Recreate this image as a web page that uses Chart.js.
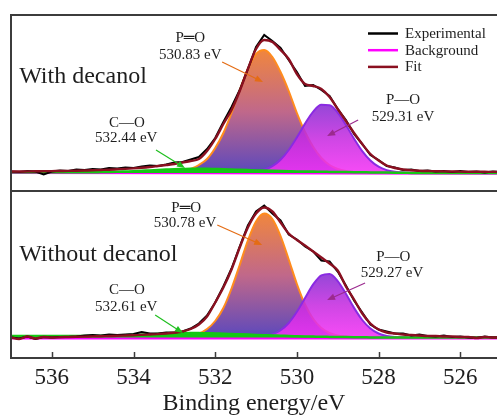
<!DOCTYPE html>
<html>
<head>
<meta charset="utf-8">
<script src="https://cdn.jsdelivr.net/npm/chart.js@4.4.1/dist/chart.umd.min.js"></script>
<style>
  html, body { margin: 0; padding: 0; background: #fff; }
  #wrap { position: relative; width: 497px; height: 416px; overflow: hidden; }
  canvas { position: absolute; left: 0; }
  #withChart { top: 0; }
  #withoutChart { top: 189px; }
</style>
</head>
<body>
<div id="wrap">
  <canvas id="withChart" width="497" height="193"></canvas>
  <canvas id="withoutChart" width="497" height="227"></canvas>
</div>
<script>
// P 2p / O 1s style XPS fit, two panels sharing the binding-energy axis

const SERIF = '"Liberation Serif", "Times New Roman", serif';

// --- DATA ---
const energy = [
  537.0, 536.8, 536.6, 536.4, 536.2, 536.0, 535.8, 535.6, 535.4, 535.2,
  535.0, 534.8, 534.6, 534.4, 534.2, 534.0, 533.8, 533.6, 533.4, 533.2,
  533.0, 532.8, 532.6, 532.4, 532.2, 532.0, 531.8, 531.6, 531.4, 531.2,
  531.0, 530.8, 530.6, 530.4, 530.2, 530.0, 529.8, 529.6, 529.4, 529.2,
  529.0, 528.8, 528.6, 528.4, 528.2, 528.0, 527.8, 527.6, 527.4, 527.2,
  527.0, 526.8, 526.6, 526.4, 526.2, 526.0, 525.8, 525.6, 525.4, 525.2, 525.0
];
const bgEnergy = [537.0, 525.0];
const tickValues = [536, 534, 532, 530, 528, 526];
const tickLabels = ['536', '534', '532', '530', '528', '526'];

// "With decanol" panel
const withExperimental = [
  1.5, 1.0, 2.0, 1.5, -1.5, 1.5, 2.5, 2.0, 3.5, 3.0,
  4.0, 3.5, 5.0, 4.5, 5.5, 5.0, 6.5, 7.5, 7.0, 8.5,
  10.5, 11, 13.5, 16, 24, 35, 51, 66, 83, 104,
  126, 138, 132, 125, 113, 101, 87, 88, 83, 77,
  64, 53, 39, 29, 18, 13, 7, 5.5, 3, 3.5,
  2, 2.5, 1.5, 2, 1, 2, 1, 1.5, 0.5, 1.5, 1
];
const withFit = [
  1.5, 1.5, 1.6, 1.7, 1.8, 1.9, 2.0, 2.1, 2.3, 2.5,
  2.7, 3.0, 3.3, 3.7, 4.1, 4.6, 5.2, 6.0, 7.0, 8.0,
  9.0, 10.5, 12, 14, 22, 34, 49, 63, 82, 104,
  124, 133, 131, 123, 114, 99, 89, 87, 84, 76,
  64, 52, 40, 29, 19, 12.5, 7.5, 5, 3.5, 2.8,
  2.3, 2.0, 1.8, 1.6, 1.5, 1.4, 1.3, 1.2, 1.2, 1.1, 1.1
];
const withBackground = [0.5, -0.3];
const withPdouble = [
  0, 0, 0, 0, 0, 0, 0, 0, 0, 0,
  0, 0, 0, 0, 0, 0, 0, 0, 0, 0.5,
  1, 2, 4, 8, 14, 25, 40, 60, 83, 104,
  119, 123, 116, 101, 82, 60, 41, 26, 15, 8,
  4, 2, 1, 0.3, 0, 0, 0, 0, 0, 0,
  0, 0, 0, 0, 0, 0, 0, 0, 0, 0, 0
];
const withPsingle = [
  0, 0, 0, 0, 0, 0, 0, 0, 0, 0,
  0, 0, 0, 0, 0, 0, 0, 0, 0, 0,
  0, 0, 0, 0, 0, 0, 0, 0, 0.2, 0.5,
  1.3, 3.2, 6.8, 13.2, 23, 35.6, 49.4, 61.4, 68.2, 67.8,
  60.4, 48.1, 34.3, 21.9, 12.5, 6.3, 2.9, 1.2, 0.4, 0.1,
  0, 0, 0, 0, 0, 0, 0, 0, 0, 0, 0
];
const withCO = [
  0.8, 0.8, 0.8, 0.8, 0.8, 0.8, 0.8, 0.8, 0.8, 0.8,
  0.8, 0.9, 1.0, 1.2, 1.5, 1.8, 2.2, 2.6, 3.0, 3.4,
  3.8, 4.0, 4.2, 4.3, 4.2, 4.0, 3.8, 3.5, 3.2, 2.9,
  2.6, 2.4, 2.2, 2.0, 1.8, 1.6, 1.5, 1.4, 1.2, 1.1,
  1.0, 0.9, 0.8, 0.7, 0.6, 0.5, 0.4, 0.3, 0.2, 0.1,
  0, 0, 0, 0, 0, 0, 0, 0, 0, 0, 0
];

// "Without decanol" panel
const withoutExperimental = [
  0, -1, 1, -1.5, 0.5, 0, 0.5, 0.5, 1, 2,
  2.5, 2, 3, 2.5, 3, 3.5, 5.5, 4, 4, 5,
  5, 6, 9, 14, 22, 35, 51, 69, 91, 112,
  126, 132, 124, 117, 103, 98, 91, 86, 77, 76,
  66, 52, 37, 25, 13, 8, 6, 4, 4, 2,
  3, 1.5, 1, 2, 0.5, 1, 0, -0.5, 1, 0, 0
];
const withoutFit = [
  0, -1.5, 1, -1, 0.5, 0, 0.3, 0.5, 0.7, 0.9,
  1.1, 1.3, 1.5, 1.7, 2.0, 2.3, 2.6, 3.0, 3.4, 4.0,
  4.8, 6, 8.5, 13, 21, 35, 50, 68, 90, 110,
  124, 130, 126, 115, 104, 97.5, 92, 86, 80, 74,
  67, 51, 38, 24, 14, 8, 5, 4, 3, 2.5,
  2, 1.5, 1.5, 1, 1, 0.5, 0.5, -0.5, 0.5, 0, 0
];
const withoutBackground = [-0.5, -0.5];
const withoutPdouble = [
  0, 0, 0, 0, 0, 0, 0, 0, 0, 0,
  0, 0, 0, 0, 0, 0, 0, 0, 0, 0,
  0.5, 1, 2, 4, 8.5, 16.5, 29.5, 49, 72.5, 97,
  116, 124, 118.5, 101.5, 78, 53.5, 33, 18.5, 9.5, 4.5,
  2, 1, 0.3, 0, 0, 0, 0, 0, 0, 0,
  0, 0, 0, 0, 0, 0, 0, 0, 0, 0, 0
];
const withoutPsingle = [
  0, 0, 0, 0, 0, 0, 0, 0, 0, 0,
  0, 0, 0, 0, 0, 0, 0, 0, 0, 0,
  0, 0, 0, 0, 0, 0, 0, 0, 0, 0,
  0.4, 1.2, 3.1, 7.2, 14.5, 25.7, 39.6, 53.1, 62.1, 63.5,
  56.4, 43.8, 29.6, 17.5, 9.0, 4.0, 1.6, 0.5, 0.2, 0,
  0, 0, 0, 0, 0, 0, 0, 0, 0, 0, 0
];
const withoutCO = [
  1.5, 1.5, 1.5, 1.5, 1.5, 1.5, 1.5, 1.5, 1.5, 1.5,
  1.5, 1.6, 1.8, 2.0, 2.2, 2.5, 2.8, 3.1, 3.4, 3.7,
  4.0, 4.3, 4.5, 4.4, 4.3, 4.0, 3.8, 3.5, 3.2, 2.9,
  2.6, 2.3, 2.0, 1.8, 1.5, 1.3, 1.1, 0.9, 0.7, 0.6,
  0.5, 0.4, 0.3, 0.2, 0.1, 0, 0, 0, 0, 0,
  0, 0, 0, 0, 0, 0, 0, 0, 0, 0, 0
];

// --- LAYOUT (annotation positions in data units) ---
const withNotes = {
  texts: [
    { text: 'With decanol', e: 536.80, h: 96, size: 24, align: 'left' },
    { text: 'P\u2550O', e: 532.61, h: 135 },
    { text: '530.83 eV', e: 532.61, h: 118 },
    { text: 'C\u2014O', e: 534.16, h: 50 },
    { text: '532.44 eV', e: 534.18, h: 35 },
    { text: 'P\u2014O', e: 527.40, h: 73 },
    { text: '529.31 eV', e: 527.40, h: 56 }
  ],
  arrows: [
    { from: [531.83, 111], to: [530.83, 91], color: '#e46c14' },
    { from: [533.45, 23], to: [532.74, 5], color: '#1fbf1f' },
    { from: [528.50, 53], to: [529.26, 37], color: '#9b2a8e' }
  ],
  legend: true
};
const withoutNotes = {
  texts: [
    { text: 'Without decanol', e: 536.80, h: 82.5, size: 24, align: 'left' },
    { text: 'P\u2550O', e: 532.71, h: 129.5 },
    { text: '530.78 eV', e: 532.74, h: 114.5 },
    { text: 'C\u2014O', e: 534.16, h: 47.5 },
    { text: '532.61 eV', e: 534.18, h: 30.5 },
    { text: 'P\u2014O', e: 527.64, h: 80.5 },
    { text: '529.27 eV', e: 527.67, h: 64.5 }
  ],
  arrows: [
    { from: [531.95, 112.5], to: [530.85, 92.5], color: '#e46c14' },
    { from: [533.47, 22.5], to: [532.79, 4.5], color: '#1fbf1f' },
    { from: [528.33, 54.5], to: [529.26, 37.5], color: '#9b2a8e' }
  ],
  legend: false
};

const COLORS = {
  experimental: '#000000',
  background: '#ff00ff',
  fit: '#8a1020',
  co: '#14c814',
  pDouble: '#ff8c1e',
  pSingle: '#8a2be2'
};

// --- HELPERS ---
function pts(xs, ys) {
  return xs.map((x, i) => ({ x: x, y: ys[i] }));
}

function peakFill(values, stops) {
  return (context) => {
    const chart = context.chart;
    if (!chart.chartArea) return null;
    const y = chart.scales.y;
    const g = chart.ctx.createLinearGradient(0, y.getPixelForValue(Math.max(...values)), 0, y.getPixelForValue(0));
    stops.forEach((c, i) => g.addColorStop(i / (stops.length - 1), c));
    return g;
  };
}

function drawArrow(ctx, x1, y1, x2, y2, color) {
  const a = Math.atan2(y2 - y1, x2 - x1);
  const L = 8, W = 3.2;
  const c = Math.cos(a), s = Math.sin(a);
  ctx.strokeStyle = color;
  ctx.fillStyle = color;
  ctx.lineWidth = 1.2;
  ctx.beginPath();
  ctx.moveTo(x1, y1);
  ctx.lineTo(x2 - L * 0.7 * c, y2 - L * 0.7 * s);
  ctx.stroke();
  ctx.beginPath();
  ctx.moveTo(x2, y2);
  ctx.lineTo(x2 - L * c + W * s, y2 - L * s - W * c);
  ctx.lineTo(x2 - L * c - W * s, y2 - L * s + W * c);
  ctx.closePath();
  ctx.fill();
}

// frame + inward ticks
const framePlugin = {
  id: 'frame',
  afterDraw(chart, args, opts) {
    const { ctx, chartArea: a, scales } = chart;
    ctx.save();
    ctx.strokeStyle = '#3c3c3c';
    ctx.lineWidth = 2;
    ctx.beginPath();
    ctx.moveTo(a.right + 2, a.top);
    ctx.lineTo(a.left, a.top);
    ctx.lineTo(a.left, a.bottom);
    ctx.lineTo(a.right + 2, a.bottom);
    ctx.stroke();
    if (opts.ticks) {
      ctx.lineWidth = 1.5;
      ctx.beginPath();
      scales.x.ticks.forEach(t => {
        const x = Math.round(scales.x.getPixelForValue(t.value)) + 0.5;
        ctx.moveTo(x, a.bottom);
        ctx.lineTo(x, a.bottom - 6);
      });
      ctx.stroke();
    }
    ctx.restore();
  }
};

// labels, arrows and legend
const notesPlugin = {
  id: 'notes',
  afterDraw(chart, args, opts) {
    const { ctx, scales, chartArea: a } = chart;
    const px = e => scales.x.getPixelForValue(e);
    const py = h => scales.y.getPixelForValue(h);
    ctx.save();
    (opts.arrows || []).forEach(ar => {
      drawArrow(ctx, px(ar.from[0]), py(ar.from[1]), px(ar.to[0]), py(ar.to[1]), ar.color);
    });
    ctx.fillStyle = '#1e1e1e';
    ctx.textBaseline = 'middle';
    (opts.texts || []).forEach(t => {
      ctx.font = (t.size || 15) + 'px ' + SERIF;
      ctx.textAlign = t.align || 'center';
      ctx.fillText(t.text, px(t.e), py(t.h));
    });
    if (opts.legend) {
      const items = ['Experimental', 'Background', 'Fit'];
      items.forEach((name, i) => {
        const ds = chart.data.datasets.find(d => d.label === name);
        const y = a.top + 18.5 + i * 16.7;
        ctx.strokeStyle = ds.borderColor;
        ctx.lineWidth = 2.5;
        ctx.beginPath();
        ctx.moveTo(368, y);
        ctx.lineTo(398, y);
        ctx.stroke();
        ctx.fillStyle = '#1e1e1e';
        ctx.textAlign = 'left';
        ctx.font = '15px ' + SERIF;
        ctx.fillText(name, 405, y + 0.5);
      });
    }
    ctx.restore();
  }
};

function panelDatasets(p) {
  return [
    { label: 'Fit', data: pts(energy, p.fit), borderColor: COLORS.fit, borderWidth: 2.4,
      cubicInterpolationMode: 'monotone', fill: false },
    { label: 'Experimental', data: pts(energy, p.exp), borderColor: COLORS.experimental, borderWidth: 2,
      tension: 0, fill: false },
    { label: 'C\u2014O', data: pts(energy, p.co), borderColor: COLORS.co, backgroundColor: COLORS.co,
      borderWidth: 2.5, cubicInterpolationMode: 'monotone', fill: 'origin' },
    { label: 'Background', data: pts(bgEnergy, p.bg), borderColor: COLORS.background, borderWidth: 3,
      fill: false },
    { label: 'P\u2014O', data: pts(energy, p.pSingle), borderColor: COLORS.pSingle, borderWidth: 2,
      cubicInterpolationMode: 'monotone', fill: 'origin',
      backgroundColor: peakFill(p.pSingle, ['rgba(135,45,210,0.88)', 'rgba(200,45,225,0.88)', 'rgba(245,50,245,0.88)']) },
    { label: 'P\u2550O', data: pts(energy, p.pDouble), borderColor: COLORS.pDouble, borderWidth: 2,
      cubicInterpolationMode: 'monotone', fill: 'origin',
      backgroundColor: peakFill(p.pDouble, ['rgb(240,134,62)', 'rgb(192,104,138)', 'rgb(92,72,188)']) }
  ];
}

function makePanel(id, p, cfg) {
  const xScale = {
    type: 'linear', reverse: true, min: 525.1, max: 537,
    display: cfg.showAxis,
    afterBuildTicks: s => { s.ticks = tickValues.map(v => ({ value: v })); },
    grid: { display: false, drawTicks: false },
    border: { display: false },
    ticks: {
      color: '#1e1e1e', font: { family: SERIF, size: 23 }, padding: 6,
      maxRotation: 0, autoSkip: false,
      callback: v => tickLabels[tickValues.indexOf(v)]
    },
    title: {
      display: true, text: 'Binding energy/eV', color: '#1e1e1e',
      font: { family: SERIF, size: 24, lineHeight: 1 }, padding: 0
    }
  };
  if (cfg.showAxis) {
    xScale.afterFit = s => { s.height = 58; s.paddingLeft = 0; s.paddingRight = 0; };
  }
  return new Chart(document.getElementById(id), {
    type: 'line',
    data: { datasets: panelDatasets(p) },
    options: {
      responsive: false,
      animation: false,
      devicePixelRatio: 1,
      layout: { padding: cfg.padding },
      elements: { point: { radius: 0 } },
      plugins: {
        legend: { display: false },
        tooltip: { enabled: false },
        frame: { ticks: cfg.showAxis },
        notes: cfg.notes
      },
      scales: {
        x: xScale,
        y: { type: 'linear', display: false, min: cfg.yMin, max: cfg.yMax }
      }
    },
    plugins: [framePlugin, notesPlugin]
  });
}

makePanel('withChart', {
  exp: withExperimental, fit: withFit, bg: withBackground,
  pDouble: withPdouble, pSingle: withPsingle, co: withCO
}, {
  showAxis: false, yMin: -18, yMax: 158,
  padding: { left: 11, right: 0, top: 15, bottom: 2 },
  notes: withNotes
});

makePanel('withoutChart', {
  exp: withoutExperimental, fit: withoutFit, bg: withoutBackground,
  pDouble: withoutPdouble, pSingle: withoutPsingle, co: withoutCO
}, {
  showAxis: true, yMin: -20.5, yMax: 146.5,
  padding: { left: 11, right: 0, top: 2, bottom: 0 },
  notes: withoutNotes
});
</script>
</body>
</html>
